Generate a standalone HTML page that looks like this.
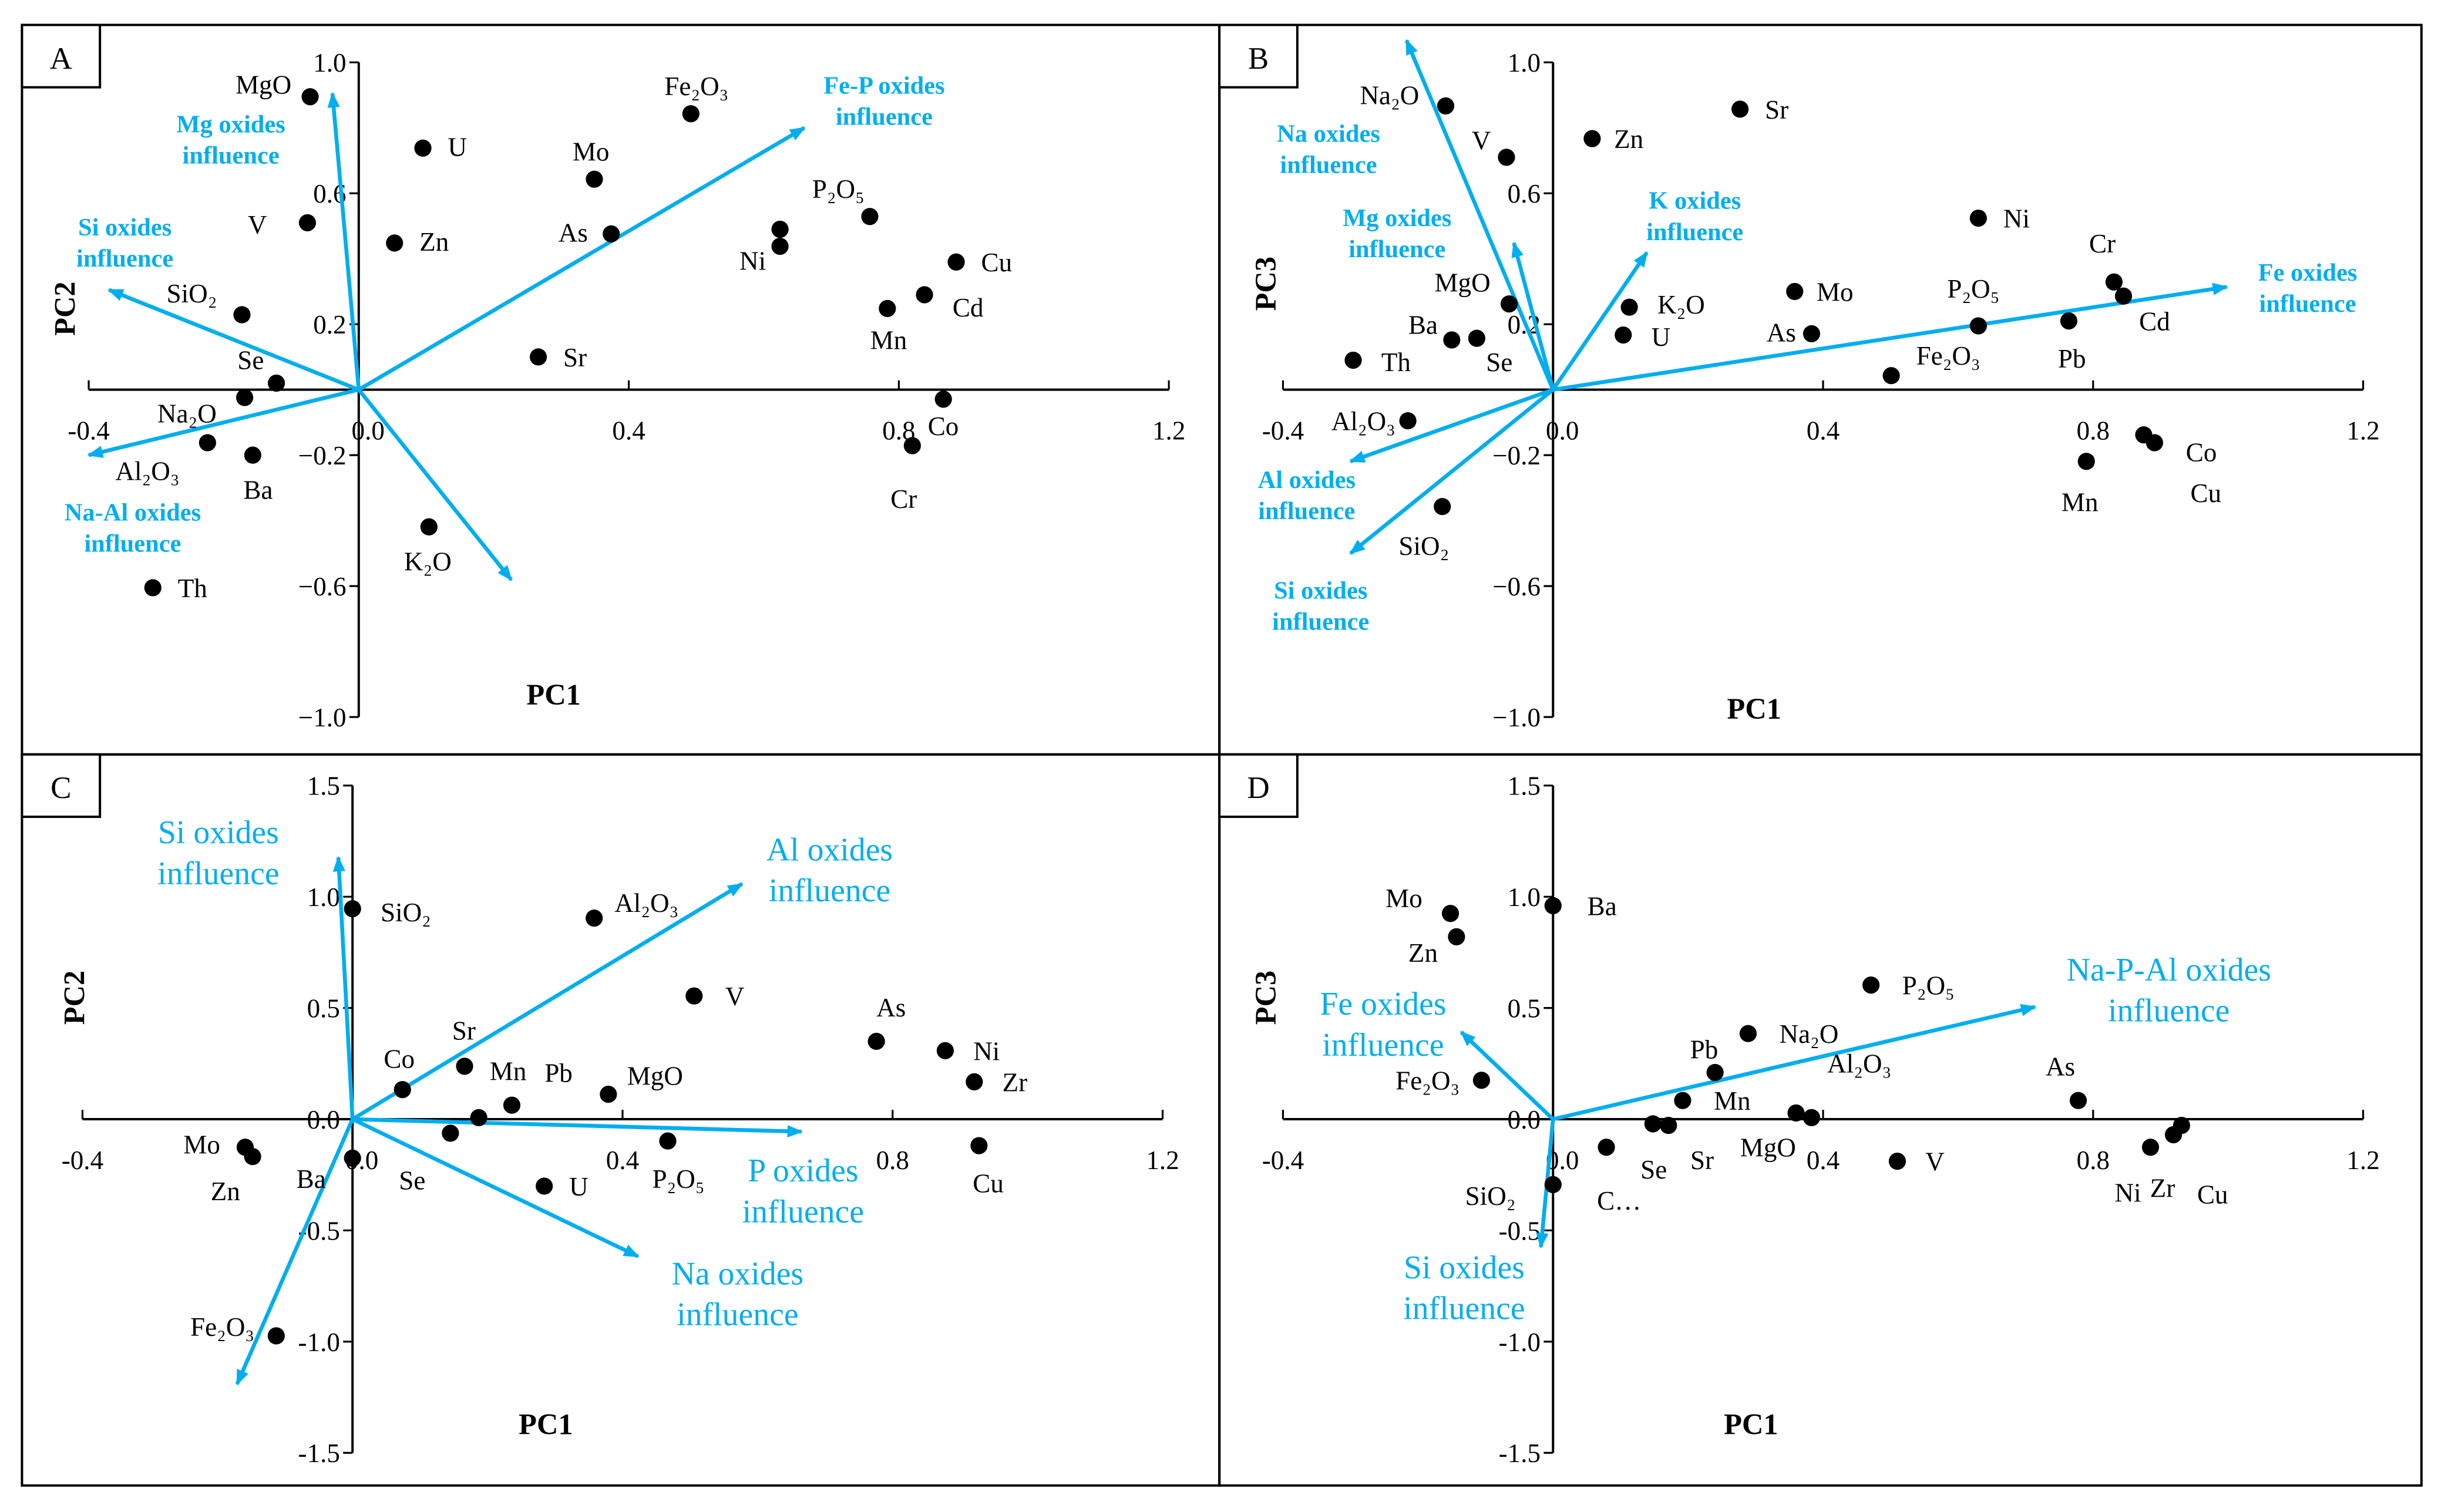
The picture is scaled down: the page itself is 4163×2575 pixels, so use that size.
<!DOCTYPE html>
<html><head><meta charset="utf-8"><style>
html,body{margin:0;padding:0;background:#fff}
svg{display:block;font-family:"Liberation Serif","DejaVu Serif","Noto Serif CJK SC",serif}
svg text{font-family:"Liberation Serif","DejaVu Serif","Noto Serif CJK SC",serif}
</style></head><body>
<svg id="fig" width="4163" height="2575" viewBox="0 0 1568 970" xmlns="http://www.w3.org/2000/svg">
<defs><marker id="ah" markerWidth="10" markerHeight="8" refX="9" refY="4" orient="auto" markerUnits="userSpaceOnUse"><path d="M0,0 L10,4 L0,8 Z" fill="#00AEEF"/></marker></defs>
</svg>
<script>
// ---------- data ----------
const namesA=["MgO","U","Zn","V","SiO₂","Se","Na₂O","Al₂O₃","Ba","Th","K₂O","Sr","As","Mo","Fe₂O₃","Ni","Ni2","P₂O₅","Cu","Cd","Mn","Co","Cr"];
const pc1A=[-0.072,0.095,0.053,-0.076,-0.173,-0.122,-0.169,-0.224,-0.157,-0.305,0.104,0.266,0.374,0.349,0.492,0.624,0.624,0.757,0.885,0.838,0.783,0.866,0.82];
const pc2A=[0.895,0.738,0.448,0.51,0.229,0.02,-0.024,-0.162,-0.2,-0.605,-0.419,0.1,0.476,0.643,0.843,0.49,0.438,0.529,0.39,0.29,0.248,-0.029,-0.171];
const namesB=["Na₂O","V","Zn","Sr","Ni","Cr","Cd","Pb","P₂O₅","Mo","As","Fe₂O₃","K₂O","U","MgO","Ba","Se","Th","Al₂O₃","SiO₂","Co","Cu","Mn"];
const pc1B=[-0.159,-0.069,0.058,0.277,0.63,0.831,0.845,0.764,0.63,0.358,0.383,0.501,0.113,0.104,-0.065,-0.15,-0.113,-0.296,-0.215,-0.164,0.875,0.891,0.79];
const pc3B=[0.867,0.71,0.767,0.857,0.524,0.329,0.286,0.21,0.195,0.3,0.171,0.043,0.252,0.167,0.262,0.152,0.157,0.09,-0.095,-0.357,-0.138,-0.162,-0.219];
const namesC=["SiO₂","Al₂O₃","V","As","Ni","Zr","Cu","Co","Sr","Mn","Pb","MgO","Se","U","P₂O₅","Mo","Zn","Ba","Fe₂O₃"];
const pc1C=[0,0.358,0.506,0.776,0.878,0.921,0.928,0.074,0.166,0.187,0.236,0.379,0.145,0.284,0.467,-0.159,-0.148,0,-0.113];
const pc2C=[0.946,0.904,0.554,0.35,0.308,0.168,-0.119,0.133,0.238,0.007,0.063,0.112,-0.063,-0.301,-0.098,-0.126,-0.168,-0.175,-0.974];
const namesD=["Ba","Mo","Zn","P₂O₅","Na₂O","Pb","Mn","Al₂O₃","MgO","Fe₂O₃","As","Cu","Zr","Ni","V","Se","Sr","C…","SiO₂"];
const pc1D=[0,-0.152,-0.143,0.471,0.289,0.24,0.192,0.36,0.383,-0.106,0.778,0.931,0.919,0.885,0.51,0.148,0.171,0.079,0];
const pc3D=[0.96,0.925,0.82,0.603,0.385,0.21,0.084,0.028,0.007,0.175,0.084,-0.028,-0.07,-0.126,-0.189,-0.021,-0.028,-0.126,-0.294];
const xTicks=[-0.4,0.0,0.4,0.8,1.2];
const xTickLabels=["-0.4","0.0","0.4","0.8","1.2"];
const yTicksAB=[1.0,0.6,0.2,-0.2,-0.6,-1.0];
const yTickLabelsAB=["1.0","0.6","0.2","−0.2","−0.6","−1.0"];
const yTicksCD=[1.5,1.0,0.5,0.0,-0.5,-1.0,-1.5];
const yTickLabelsCD=["1.5","1.0","0.5","0.0","-0.5","-1.0","-1.5"];
const arrowsA=[[-0.039,0.905],[0.66,0.8],[-0.37,0.305],[-0.4,-0.2],[0.226,-0.581]];
const arrowsB=[[-0.217,1.067],[-0.058,0.448],[0.139,0.419],[0.998,0.314],[-0.3,-0.219],[-0.3,-0.5]];
const arrowsC=[[-0.021,1.177],[0.577,1.058],[0.665,-0.056],[0.423,-0.617],[-0.171,-1.191]];
const arrowsD=[[0.714,0.505],[-0.136,0.392],[-0.018,-0.575]];

// ---------- label placement (style, not data) ----------
const offA={"MgO":[-12,-2,"end"],"U":[16,5,"start"],"Zn":[16,5,"start"],"V":[-26,7,"end"],"SiO₂":[-16,-8,"end"],"Se":[-8,-9,"end"],"Na₂O":[-18,16,"end"],"Al₂O₃":[-18,24,"end"],"Ba":[-6,28,"start"],"Th":[16,6,"start"],"K₂O":[-16,28,"start"],"Sr":[16,6,"start"],"As":[-15,5,"end"],"Mo":[-14,-12,"start"],"Fe₂O₃":[-17,-12,"start"],"Ni":[-26,26,"start"],"Ni2":null,"P₂O₅":[-37,-12,"start"],"Cu":[16,6,"start"],"Cd":[18,14,"start"],"Mn":[-11,26,"start"],"Co":[-10,23,"start"],"Cr":[-14,40,"start"]};
const offB={"Na₂O":[-17,-1,"end"],"V":[-10,-5,"end"],"Zn":[14,6,"start"],"Sr":[16,6,"start"],"Ni":[16,6,"start"],"Cr":[-16,-19,"start"],"Cd":[10,22,"start"],"Pb":[-7,30,"start"],"P₂O₅":[-20,-18,"start"],"Mo":[14,6,"start"],"As":[-10,5,"end"],"Fe₂O₃":[16,-7,"start"],"K₂O":[18,4,"start"],"U":[18,7,"start"],"MgO":[-12,-8,"end"],"Ba":[-9,-4,"end"],"Se":[6,21,"start"],"Th":[18,7,"start"],"Al₂O₃":[-8,6,"end"],"SiO₂":[-28,31,"start"],"Co":[27,17,"start"],"Cu":[23,38,"start"],"Mn":[-16,32,"start"]};
const offC={"SiO₂":[18,8,"start"],"Al₂O₃":[13,-4,"start"],"V":[20,6,"start"],"As":[0,-16,"start"],"Ni":[18,6,"start"],"Zr":[18,6,"start"],"Cu":[-4,30,"start"],"Co":[-12,-14,"start"],"Sr":[-8,-17,"start"],"Mn":[7,-24,"start"],"Pb":[21,-15,"start"],"MgO":[12,-6,"start"],"Se":[-33,36,"start"],"U":[16,6,"start"],"P₂O₅":[-10,30,"start"],"Mo":[-16,4,"end"],"Zn":[-8,28,"end"],"Ba":[-36,19,"start"],"Fe₂O₃":[-14,0,"end"]};
const offD={"Ba":[22,6,"start"],"Mo":[-18,-4,"end"],"Zn":[-12,16,"end"],"P₂O₅":[20,6,"start"],"Na₂O":[20,6,"start"],"Pb":[-16,-9,"start"],"Mn":[20,6,"start"],"Al₂O₃":[20,-26,"start"],"MgO":[-10,25,"end"],"Fe₂O₃":[-14,6,"end"],"As":[-2,-16,"end"],"Cu":[10,50,"start"],"Zr":[-15,40,"start"],"Ni":[-6,35,"end"],"V":[18,6,"start"],"Se":[-8,35,"start"],"Sr":[14,28,"start"],"C…":[-6,40,"start"],"SiO₂":[-24,13,"end"]};

const NS="http://www.w3.org/2000/svg";
const svg=document.getElementById("fig");
function mk(tag,attrs,parent){const e=document.createElementNS(NS,tag);for(const k in attrs)e.setAttribute(k,attrs[k]);(parent||svg).appendChild(e);return e;}
const BLUE="#00AEEF";

function panel(cfg){
  const g=mk("g",{});
  
  
  const sx=v=>cfg.ox+v*cfg.kx, sy=v=>cfg.oy-v*cfg.ky;
  const fr=mk("rect",{x:cfg.fx,y:cfg.fy,width:cfg.fw,height:cfg.fh,fill:"none",stroke:"#000","stroke-width":1.5},g);
  
  
  const lb=mk("rect",{x:cfg.fx,y:cfg.fy,width:50,height:40,fill:"#fff",stroke:"#000","stroke-width":1.5},g);
  
  
  const lt=mk("text",{x:cfg.fx+25,y:cfg.fy+28,"font-size":20,"text-anchor":"middle"},g);lt.textContent=cfg.letter;
  
  
  const xa=mk("line",{x1:sx(-0.4),x2:sx(1.2),y1:cfg.oy,y2:cfg.oy,stroke:"#000","stroke-width":1.5},g);
  
  
  const ya=mk("line",{x1:cfg.ox,x2:cfg.ox,y1:sy(cfg.yt[0]),y2:sy(cfg.yt[cfg.yt.length-1]),stroke:"#000","stroke-width":1.5},g);
  
  
  xTicks.forEach((t,i)=>{
    mk("line",{x1:sx(t),x2:sx(t),y1:cfg.oy,y2:cfg.oy-6,stroke:"#000","stroke-width":1.2},g);
    const tx=mk("text",{x:sx(t)+(t===0?6:0),y:cfg.oy+32,"font-size":17,"text-anchor":"middle"},g);tx.textContent=xTickLabels[i];
    
    
  });
  cfg.yt.forEach((t,i)=>{
    mk("line",{x1:cfg.ox,x2:cfg.ox-6,y1:sy(t),y2:sy(t),stroke:"#000","stroke-width":1.2},g);
    const ty=mk("text",{x:cfg.ox-8,y:sy(t)+6,"font-size":17,"text-anchor":"end"},g);ty.textContent=cfg.ytl[i];
    
    
  });
  const xt=mk("text",{x:cfg.xtx,y:cfg.xty,"font-size":19,"font-weight":"bold","text-anchor":"middle"},g);xt.textContent="PC1";
  
  
  const yt=mk("text",{x:0,y:0,"font-size":19,"font-weight":"bold","text-anchor":"middle",transform:`translate(${cfg.ytx},${cfg.yty}) rotate(-90)`},g);yt.textContent=cfg.yname;
  
  
  cfg.arrows.forEach((a,i)=>{
    const l=mk("line",{x1:cfg.ox,y1:cfg.oy,x2:sx(a[0]),y2:sy(a[1]),stroke:BLUE,"stroke-width":2.5,"marker-end":"url(#ah)"},g);
    
    
  });
  cfg.alabels.forEach(al=>{
    const t=mk("text",{x:al[0],y:al[1],"font-size":cfg.afs,"font-weight":cfg.cd?"normal":"bold",fill:BLUE,"text-anchor":"middle"},g);
    
    
    const t1=mk("tspan",{x:al[0],dy:0},t);t1.textContent=al[2];
    const t2=mk("tspan",{x:al[0],dy:cfg.afs*1.25},t);t2.textContent="influence";
  });
  cfg.names.forEach((n,i)=>{
    const px=sx(cfg.xs[i]), py=sy(cfg.ys[i]);
    const c=mk("circle",{cx:px,cy:py,r:5.5,fill:"#000"},g);
    
    
    const o=cfg.off[n];
    if(!o) return;
    const t=mk("text",{x:px+o[0],y:py+o[1],"font-size":17,"text-anchor":o[2]},g);t.textContent=n;
    
    
  });
}
panel({id:"a",letter:"A",fx:14,fy:16,fw:768,fh:468,ox:230,oy:250,kx:433,ky:210,yt:yTicksAB,ytl:yTickLabelsAB,cd:false,
  xtx:355,xty:452,ytx:48,yty:198,yname:"PC2",names:namesA,xs:pc1A,ys:pc2A,off:offA,arrows:arrowsA,afs:16,
  alabels:[[567,60,"Fe-P oxides"],[148,85,"Mg oxides"],[80,151,"Si oxides"],[85,334,"Na-Al oxides"]]});
panel({id:"b",letter:"B",fx:782,fy:16,fw:771,fh:468,ox:996,oy:250,kx:433,ky:210,yt:yTicksAB,ytl:yTickLabelsAB,cd:false,
  xtx:1125,xty:461,ytx:818,yty:182,yname:"PC3",names:namesB,xs:pc1B,ys:pc3B,off:offB,arrows:arrowsB,afs:16,
  alabels:[[852,91,"Na oxides"],[896,145,"Mg oxides"],[1087,134,"K oxides"],[1480,180,"Fe oxides"],[838,313,"Al oxides"],[847,384,"Si oxides"]]});
panel({id:"c",letter:"C",fx:14,fy:484,fw:768,fh:469,ox:226,oy:718,kx:433,ky:142.7,yt:yTicksCD,ytl:yTickLabelsCD,cd:true,
  xtx:350,xty:920,ytx:54,yty:640,yname:"PC2",names:namesC,xs:pc1C,ys:pc2C,off:offC,arrows:arrowsC,afs:21,
  alabels:[[140,541,"Si oxides"],[532,552,"Al oxides"],[515,758,"P oxides"],[473,824,"Na oxides"]]});
panel({id:"d",letter:"D",fx:782,fy:484,fw:771,fh:469,ox:996,oy:718,kx:433,ky:142.7,yt:yTicksCD,ytl:yTickLabelsCD,cd:true,
  xtx:1123,xty:920,ytx:818,yty:640,yname:"PC3",names:namesD,xs:pc1D,ys:pc3D,off:offD,arrows:arrowsD,afs:21,
  alabels:[[1391,629,"Na-P-Al oxides"],[887,651,"Fe oxides"],[939,820,"Si oxides"]]});
</script>
</body></html>
